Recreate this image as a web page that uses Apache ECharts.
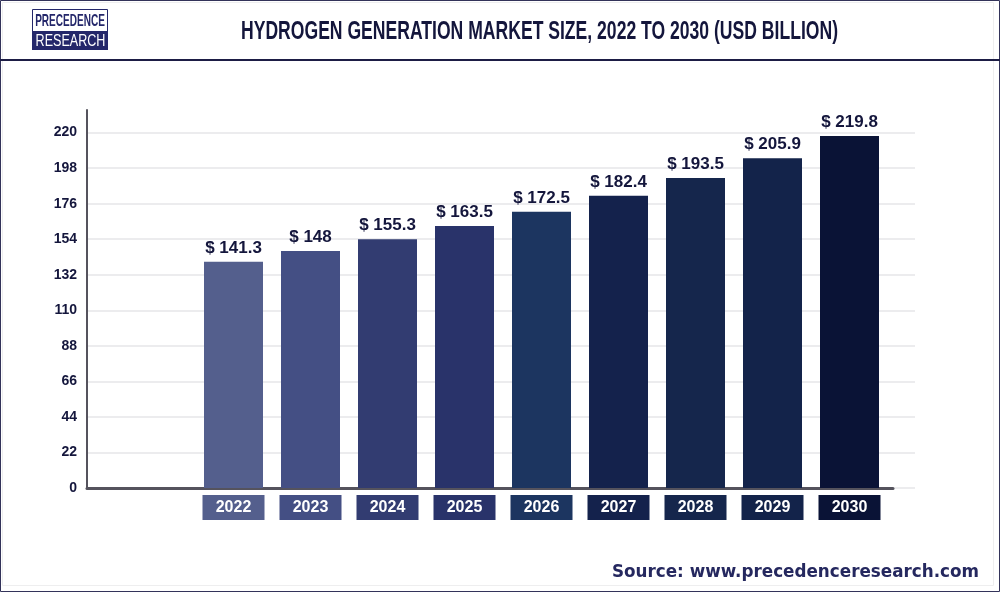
<!DOCTYPE html>
<html>
<head>
<meta charset="utf-8">
<title>Hydrogen Generation Market Size</title>
<style>
  html, body { margin: 0; padding: 0; background: #fff; }
  #chart { width: 1000px; height: 592px; }
</style>
<script src="https://cdn.jsdelivr.net/npm/echarts@6/dist/echarts.min.js"></script>
</head>
<body>
<div id="chart"></div>
<script>
const years = ["2022", "2023", "2024", "2025", "2026", "2027", "2028", "2029", "2030"];
const marketSize = [141.3, 148, 155.3, 163.5, 172.5, 182.4, 193.5, 205.9, 219.8];
const barColors = ["#545f8d", "#444f84", "#323c71", "#29336a", "#1c3560", "#14224c", "#15264c", "#13234a", "#0a1336"];

const sans = "'Liberation Sans', sans-serif";
const ink = "#14163c";
const navy = "#24276a";

const chart = echarts.init(document.getElementById("chart"), null, { renderer: "canvas" });

chart.setOption({
  animation: false,
  backgroundColor: "#fff",
  // gridlines and y axis, x axis line, bars
  grid: [
    { left: 87, width: 828, top: 110, height: 378 },
    { left: 87, width: 806, top: 110, height: 378 },
    { left: 195, width: 693, top: 110, height: 378 }
  ],
  xAxis: [
    { gridIndex: 0, type: "category", data: years, show: false },
    {
      gridIndex: 1, type: "category", data: years,
      axisLine: { lineStyle: { color: "#55535d", width: 3 } },
      axisTick: { show: false },
      axisLabel: { show: false }
    },
    {
      gridIndex: 2, type: "category", data: years.map((y, i) => ({
        value: y,
        textStyle: { backgroundColor: barColors[i] }
      })),
      axisLine: { show: false },
      axisTick: { show: false },
      axisLabel: {
        margin: 7,
        interval: 0,
        color: "#fff",
        fontFamily: sans,
        fontWeight: "bold",
        fontSize: 16,
        width: 62,
        height: 25,
        lineHeight: 25,
        align: "center"
      }
    }
  ],
  yAxis: [
    {
      gridIndex: 0, type: "value", min: 0, max: 234, interval: 22,
      axisLine: { show: true, lineStyle: { color: "#55535d", width: 2 } },
      axisTick: { show: false },
      axisLabel: {
        margin: 10,
        color: ink,
        fontFamily: sans,
        fontWeight: "bold",
        fontSize: 14,
        showMaxLabel: false
      },
      splitLine: { show: true, showMaxLine: false, lineStyle: { color: "#ececee", width: 2 } }
    },
    { gridIndex: 1, type: "value", min: 0, max: 234, show: false, splitLine: { show: false } },
    { gridIndex: 2, type: "value", min: 0, max: 236, show: false, splitLine: { show: false } }
  ],
  series: [
    {
      type: "bar",
      name: "Market size",
      xAxisIndex: 2,
      yAxisIndex: 2,
      barWidth: 59,
      z: 3,
      data: marketSize.map((v, i) => ({ value: v, itemStyle: { color: barColors[i] } })),
      label: {
        show: true,
        position: "top",
        distance: 5,
        formatter: p => "$ " + p.value,
        color: ink,
        fontFamily: sans,
        fontWeight: "bold",
        fontSize: 17
      }
    }
  ],
  // frame, header, logo, title and source; the condensed type comes from scaleX
  graphic: [
    { type: "rect", shape: { x: 2.5, y: 2.5, width: 991, height: 583 }, style: { fill: "none", stroke: "#eeeeef", lineWidth: 1 }, silent: true },
    { type: "rect", shape: { x: 0.5, y: 0.5, width: 999, height: 591 }, style: { fill: "none", stroke: "#33335a", lineWidth: 1 }, silent: true },
    { type: "rect", shape: { x: 0, y: 59, width: 1000, height: 2 }, style: { fill: "#1d1d45" }, silent: true },
    { type: "rect", shape: { x: 32.5, y: 9.5, width: 75, height: 40 }, style: { fill: "#fff", stroke: navy, lineWidth: 1 }, silent: true },
    { type: "rect", shape: { x: 32, y: 31, width: 76, height: 19 }, style: { fill: navy }, silent: true },
    { type: "text", x: 70, y: 21, scaleX: 0.59, style: { text: "PRECEDENCE", align: "center", verticalAlign: "middle", font: "bold 17px " + sans, fill: navy }, silent: true },
    { type: "text", x: 70.5, y: 41, scaleX: 0.74, style: { text: "RESEARCH", align: "center", verticalAlign: "middle", font: "17px " + sans, fill: "#fff" }, silent: true },
    { type: "text", x: 539.5, y: 32, scaleX: 0.676, style: { text: "HYDROGEN GENERATION MARKET SIZE, 2022 TO 2030 (USD BILLION)", align: "center", verticalAlign: "middle", font: "bold 26px " + sans, fill: ink }, silent: true },
    { type: "text", x: 979, y: 573, style: { text: "Source: www.precedenceresearch.com", align: "right", verticalAlign: "middle", font: "bold 16.8px 'DejaVu Sans', sans-serif", fill: "#25285f" }, silent: true }
  ]
});
</script>
</body>
</html>
